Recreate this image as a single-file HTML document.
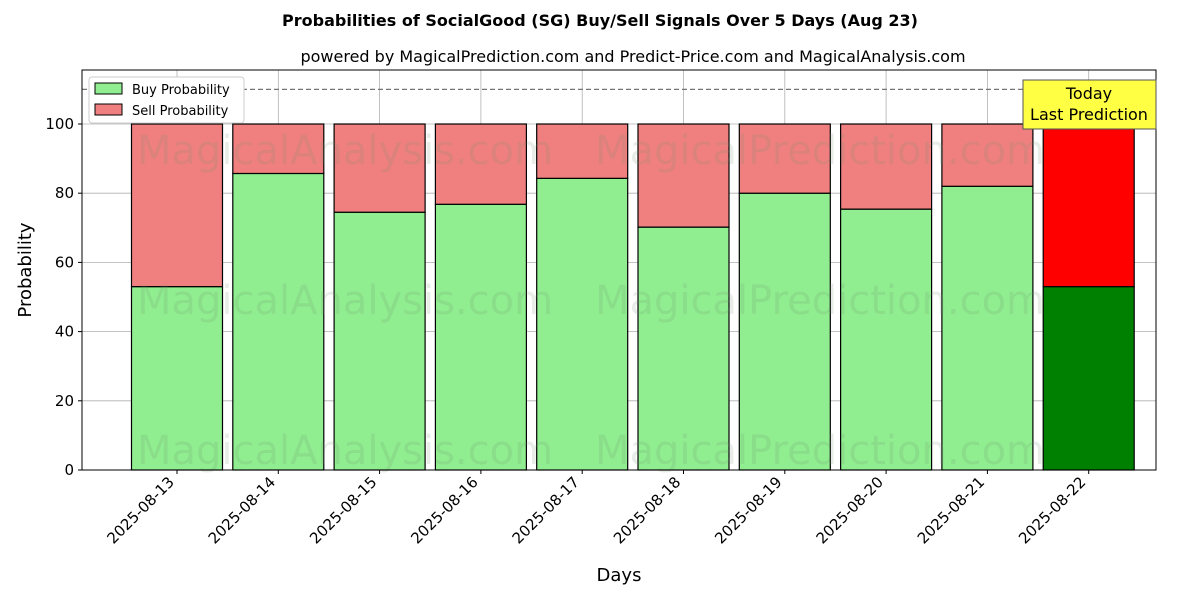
<!DOCTYPE html>
<html><head><meta charset="utf-8"><style>
body{margin:0;background:#fff;font-family:"Liberation Sans","DejaVu Sans",sans-serif;}
svg text{font-family:"DejaVu Sans","Liberation Sans",sans-serif;}
</style></head><body>
<svg id="c" width="1200" height="600" xmlns="http://www.w3.org/2000/svg">
<text x="600" y="26" text-anchor="middle" font-size="16" font-weight="bold">Probabilities of SocialGood (SG) Buy/Sell Signals Over 5 Days (Aug 23)</text>
<text x="633" y="62" text-anchor="middle" font-size="16">powered by MagicalPrediction.com and Predict-Price.com and MagicalAnalysis.com</text>
<g id="plot"></g>
</svg>
<script>
const categories=["2025-08-13","2025-08-14","2025-08-15","2025-08-16","2025-08-17","2025-08-18","2025-08-19","2025-08-20","2025-08-21","2025-08-22"];
const buyValues=[53,85.7,74.5,76.8,84.3,70.2,80,75.4,82,53];
const sellValues=[47,14.3,25.5,23.2,15.7,29.8,20,24.6,18,47];
const yTicks=[0,20,40,60,80,100];
const L=82,R=1156,T=70,B=470;
const xs=i=>177+i*101.3;
const ys=v=>B-v*3.46;
const bw=91;
const g=document.getElementById('plot');
const NS="http://www.w3.org/2000/svg";
function mk(t,a,txt){const e=document.createElementNS(NS,t);for(const k in a)e.setAttribute(k,a[k]);if(txt!==undefined)e.textContent=txt;g.appendChild(e);return e;}
yTicks.forEach(v=>{const l=mk('line',{x1:L,x2:R,y1:ys(v),y2:ys(v),stroke:'#b0b0b0','stroke-width':0.8});


const t=mk('text',{x:L-8,y:ys(v)+5,'text-anchor':'end','font-size':15},String(v));


mk('line',{x1:L-4,x2:L,y1:ys(v),y2:ys(v),stroke:'#000'});});
categories.forEach((c,i)=>{const l=mk('line',{x1:xs(i),x2:xs(i),y1:T,y2:B,stroke:'#b0b0b0','stroke-width':0.8});

});
categories.forEach((c,i)=>{const last=i===categories.length-1;
const b=mk('rect',{x:xs(i)-bw/2,y:ys(buyValues[i]),width:bw,height:ys(0)-ys(buyValues[i]),fill:last?'#008000':'#90ee90',stroke:'#000','stroke-width':1.2});


const s=mk('rect',{x:xs(i)-bw/2,y:ys(buyValues[i]+sellValues[i]),width:bw,height:ys(buyValues[i])-ys(buyValues[i]+sellValues[i]),fill:last?'#ff0000':'#f08080',stroke:'#000','stroke-width':1.2});


mk('line',{x1:xs(i),x2:xs(i),y1:B,y2:B+4,stroke:'#000'});
const t=mk('text',{x:xs(i)-2,y:B+13,'text-anchor':'end','font-size':15,transform:`rotate(-45 ${xs(i)-2} ${B+13})`},c);

});
[[345,150,'MagicalAnalysis.com'],[820,150,'MagicalPrediction.com'],[345,300,'MagicalAnalysis.com'],[820,300,'MagicalPrediction.com'],[345,450,'MagicalAnalysis.com'],[820,450,'MagicalPrediction.com']].forEach(w=>{
const t=mk('text',{x:w[0],y:w[1]+14,'text-anchor':'middle','font-size':40,fill:'rgba(110,140,110,0.16)'},w[2]);

});
const d=mk('line',{x1:L,x2:R,y1:ys(110),y2:ys(110),stroke:'#777','stroke-dasharray':'5,3','stroke-width':1.2});


const fr=mk('rect',{x:L,y:T,width:R-L,height:B-T,fill:'none',stroke:'#000','stroke-width':1});


const ab=mk('rect',{x:1023,y:80,width:133,height:49,fill:'#ffff44',stroke:'#555'});


mk('text',{x:1089,y:99,'text-anchor':'middle','font-size':16},'Today');
mk('text',{x:1089,y:120,'text-anchor':'middle','font-size':16},'Last Prediction');
const lg=mk('rect',{x:89,y:77,width:155,height:46,fill:'#fff',stroke:'#ccc',rx:3});


const l1=mk('rect',{x:95,y:83,width:27,height:11,fill:'#90ee90',stroke:'#000'});


mk('text',{x:132,y:94,'font-size':13},'Buy Probability');
const l2=mk('rect',{x:95,y:104,width:27,height:11,fill:'#f08080',stroke:'#000'});


mk('text',{x:132,y:115,'font-size':13},'Sell Probability');
const xt=mk('text',{x:619,y:581,'text-anchor':'middle','font-size':18},'Days');


const yt=mk('text',{x:31,y:270,'text-anchor':'middle','font-size':18,transform:'rotate(-90 31 270)'},'Probability');


</script>
</body></html>
